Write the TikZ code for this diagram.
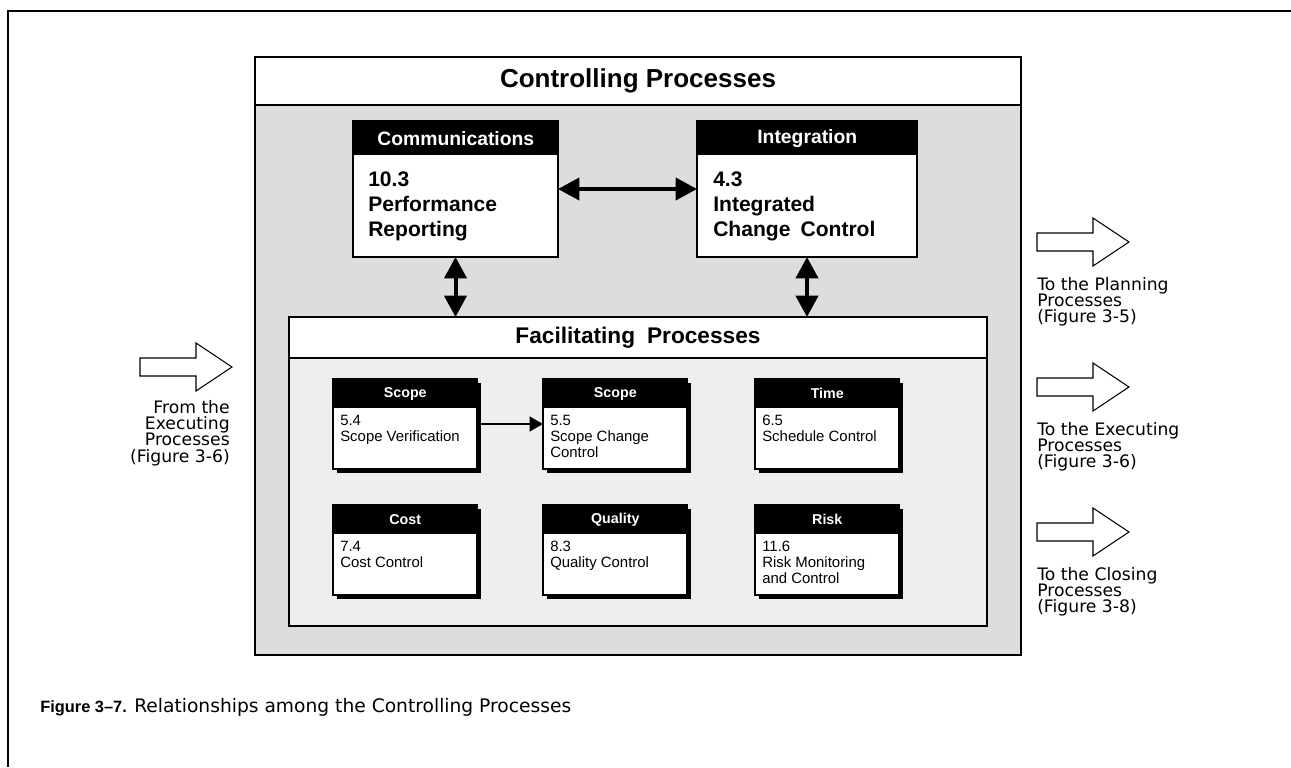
\documentclass[tikz,border=0pt]{standalone}
\usepackage{fontspec}
\setmainfont{Liberation Sans}
\newfontfamily\widefont{DejaVu Sans}
\usepackage{tikz}
\usetikzlibrary{arrows.meta,positioning,shadows}
\definecolor{ctrlgray}{RGB}{221,221,221}
\definecolor{facgray}{RGB}{238,238,238}
\newdimen\px
\px=0.75pt
\tikzset{
  % page frame
  frameline/.style={line width=2.2pt},
  % large panels
  panel/.style={draw, line width=1.6pt, inner sep=0pt, outer sep=0pt, anchor=north west},
  panelhead/.style={panel, fill=white},
  % upper process boxes
  bigbox/.style={draw, line width=1.4pt, fill=white, inner sep=0pt, outer sep=0pt,
    anchor=north west, minimum height=136\px},
  bighead/.style={fill=black, text=white, inner sep=0pt, anchor=north west,
    minimum height=34\px, font=\fontsize{14.5}{16}\selectfont\bfseries},
  bigtext/.style={inner sep=0pt, anchor=north west, align=left,
    font=\fontsize{15.8}{18.75}\selectfont\bfseries},
  % facilitating process boxes
  facbox/.style={draw, line width=1.1pt, fill=white, inner sep=0pt, outer sep=0pt,
    anchor=north west, minimum width=144\px, minimum height=90\px,
    drop shadow={shadow xshift=3pt, shadow yshift=-3pt, fill=black, opacity=1}},
  fachead/.style={fill=black, text=white, inner sep=0pt, anchor=north west,
    minimum width=144\px, minimum height=29\px, font=\fontsize{10.7}{12}\selectfont\bfseries},
  factext/.style={inner sep=0pt, anchor=north west, align=left,
    font=\fontsize{11.2}{12}\selectfont},
  % connectors
  dblarrow/.style={{Triangle[length=16pt,width=16.5pt]}-{Triangle[length=16pt,width=16.5pt]}, line width=3pt},
  flowarrow/.style={-{Triangle[length=10pt,width=11pt]}, line width=1.5pt},
  % outside labels
  sidetext/.style={inner sep=0pt, font=\widefont\fontsize{12.9}{12.2}\selectfont},
  capbold/.style={inner sep=0pt, anchor=base west, font=\fontsize{12.3}{15}\selectfont\bfseries},
  captext/.style={inner sep=0pt, anchor=base west, font=\widefont\fontsize{14}{15}\selectfont},
  hollowarrow/.pic={
    \draw[line width=0.8pt, fill=white] (0,-9) -- (56,-9) -- (56,-24) -- (92,0)
      -- (56,24) -- (56,9) -- (0,9) -- cycle;
  },
}
\begin{document}
\begin{tikzpicture}[x=0.75pt, y=-0.75pt]
  \useasboundingbox (0,0) rectangle (1291,767);

  % Frame
  \draw[frameline] (1291,11) -- (8,11) -- (8,767);

  % Controlling Processes
  \node[panel, fill=ctrlgray, minimum width=766\px, minimum height=598\px] (ctrl) at (255,57) {};
  \node[panelhead, minimum width=766\px, minimum height=48\px,
    font=\fontsize{19.5}{22}\selectfont\bfseries] (ctrlhead) at (ctrl.north west) {Controlling Processes};

  % Communications / Integration
  \node[bigbox, minimum width=205\px] (comm) at (353,121) {};
  \node[bighead, minimum width=205\px] (commhead) at (comm.north west) {Communications};
  \node[bigtext] (commtext) at ([shift={(15,51)}]comm.north west) {10.3\\Performance\\Reporting};

  \node[bigbox, minimum width=220\px] (integ) at (697,121) {};
  \node[bighead, minimum width=220\px] (integhead) at (integ.north west) {Integration};
  \node[bigtext] (integtext) at ([shift={(16,51)}]integ.north west) {4.3\\Integrated\\Change\hspace{0.2em} Control};

  % Facilitating Processes
  \node[panel, fill=facgray, minimum width=698\px, minimum height=309\px] (fac) at (289,317) {};
  \node[panelhead, minimum width=698\px, minimum height=41\px,
    font=\fontsize{17}{20}\selectfont\bfseries] (fachead) at (fac.north west) {Facilitating\hspace{0.25em} Processes};

  \draw[dblarrow] (comm) -- (integ);
  \draw[dblarrow] (comm) -- (comm |- fac.north);
  \draw[dblarrow] (integ) -- (integ |- fac.north);

  % Row 1
  \node[facbox] (scopever) at (333,379) {};
  \node[fachead] (scopeverhead) at (scopever.north west) {Scope};
  \node[factext] (scopevertext) at ([shift={(7,36)}]scopever.north west) {5.4\\Scope Verification};

  \node[facbox] (scopechg) at (543,379) {};
  \node[fachead] (scopechghead) at (scopechg.north west) {Scope};
  \node[factext] (scopechgtext) at ([shift={(7,36)}]scopechg.north west) {5.5\\Scope Change\\Control};

  \node[facbox] (sched) at (755,379) {};
  \node[fachead] (schedhead) at (sched.north west) {Time};
  \node[factext] (schedtext) at ([shift={(7,36)}]sched.north west) {6.5\\Schedule Control};

  % Row 2
  \node[facbox] (cost) at (333,505) {};
  \node[fachead] (costhead) at (cost.north west) {Cost};
  \node[factext] (costtext) at ([shift={(7,36)}]cost.north west) {7.4\\Cost Control};

  \node[facbox] (qual) at (543,505) {};
  \node[fachead] (qualhead) at (qual.north west) {Quality};
  \node[factext] (qualtext) at ([shift={(7,36)}]qual.north west) {8.3\\Quality Control};

  \node[facbox] (risk) at (755,505) {};
  \node[fachead] (riskhead) at (risk.north west) {Risk};
  \node[factext] (risktext) at ([shift={(7,36)}]risk.north west) {11.6\\Risk Monitoring\\and Control};

  \draw[flowarrow] (scopever) -- (scopechg);

  % In / out
  \pic at (140,367) {hollowarrow};
  \node[sidetext, anchor=north east, align=right] (fromexec) at (230,400) {From the\\Executing\\Processes\\(Figure 3-6)};

  \pic at (1037,242) {hollowarrow};
  \node[sidetext, anchor=north west, align=left] (toplan) at (1037,277) {To the Planning\\Processes\\(Figure 3-5)};
  \pic at (1037,387) {hollowarrow};
  \node[sidetext, anchor=north west, align=left] (toexec) at (1037,422) {To the Executing\\Processes\\(Figure 3-6)};
  \pic at (1037,532) {hollowarrow};
  \node[sidetext, anchor=north west, align=left] (toclose) at (1037,567) {To the Closing\\Processes\\(Figure 3-8)};

  % Caption
  \node[capbold] (figno) at (40,712) {Figure 3–7.};
  \node[captext] (figtitle) at (134,712) {Relationships among the Controlling Processes};
\end{tikzpicture}
\end{document}
